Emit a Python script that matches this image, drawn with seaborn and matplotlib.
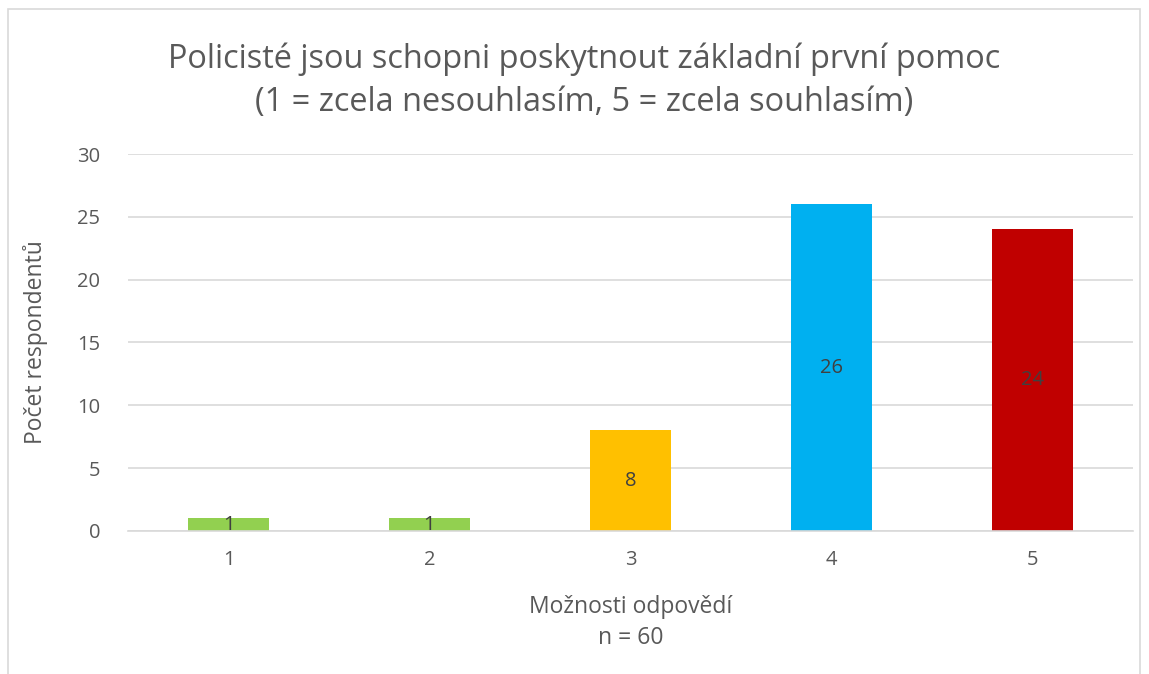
import matplotlib.pyplot as plt
import seaborn as sns
import pandas as pd
from matplotlib.patches import Rectangle

# data
moznosti = ['1', '2', '3', '4', '5']
pocty = [1, 1, 8, 26, 24]
barvy = ['#92D050', '#92D050', '#FFC000', '#00B0F0', '#C00000']

df = pd.DataFrame({'Moznost': moznosti, 'Pocet': pocty})

sns.set_style('white')
plt.rcParams['font.family'] = ['Open Sans', 'DejaVu Sans']

fig = plt.figure(figsize=(11.49, 6.74), dpi=100)
ax = fig.add_axes([0.1114, 0.2122, 0.8746, 0.5593])

sns.barplot(data=df, x='Moznost', y='Pocet', hue='Moznost', palette=barvy,
            width=0.4, legend=False, saturation=1, linewidth=0, ax=ax)

# data labels in the middle of each bar
for cont in ax.containers:
    ax.bar_label(cont, label_type='center', fontsize=14.5, color='#404040')

ax.set_ylim(0, 30)
ax.set_xlim(-0.5, 4.5)
ax.set_yticks(range(0, 31, 5))
ax.yaxis.grid(True, color='#D9D9D9', linewidth=1.2)
ax.set_axisbelow(True)
for s in ['top', 'right', 'left']:
    ax.spines[s].set_visible(False)
ax.spines['bottom'].set_color('#D9D9D9')
ax.spines['bottom'].set_linewidth(1.2)
ax.tick_params(axis='both', length=0, labelsize=14.5, labelcolor='#595959')
ax.tick_params(axis='y', pad=20)
ax.tick_params(axis='x', pad=14)

ax.set_xlabel('Možnosti odpovědí\nn = 60', fontsize=16.5, color='#595959', labelpad=18,
              linespacing=1.35)
ax.set_ylabel('Počet respondentů', fontsize=16.5, color='#595959', labelpad=21)

fig.text(0.508, 0.880, 'Policisté jsou schopni poskytnout základní první pomoc\n(1 = zcela nesouhlasím, 5 = zcela souhlasím)',
         ha='center', va='center', fontsize=23.4, color='#595959', linespacing=1.4)

# chart border
fig.patches.append(Rectangle((8 / 1149, -0.01), 1132 / 1149, 1 - 9 / 674 + 0.01,
                             transform=fig.transFigure, fill=False,
                             edgecolor='#D9D9D9', linewidth=1.2))

fig.savefig('out.png', dpi=100)
